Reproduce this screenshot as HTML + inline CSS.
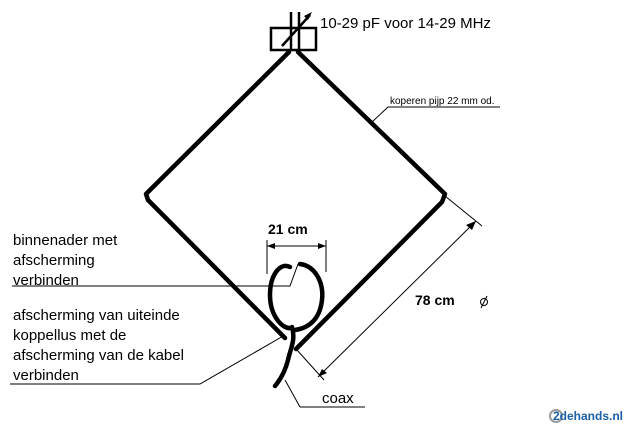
<!DOCTYPE html>
<html><head><style>html,body{margin:0;padding:0;background:#fff;}</style></head>
<body>
<svg width="634" height="426" viewBox="0 0 634 426" xmlns="http://www.w3.org/2000/svg" font-family="Liberation Sans, sans-serif">
<rect width="634" height="426" fill="#fff"/>
<g fill="none" stroke="#000" stroke-width="4.5" stroke-linejoin="round" stroke-linecap="round">
<polyline points="289,52 146,194 148,200 285,338"/>
<polyline points="298,52 445,194 442,202 296,349"/>
<path d="M290,267 C280,262 270,275 270,295 C270,315 282,330 292,328 M300,264 C315,266 324,282 322,300 C320,318 310,328 295,330"/>
<path d="M292,327 C296,340 290,350 288,360 C285,372 280,380 275,386"/>
</g>
<g fill="none" stroke="#000" stroke-width="2.5">
<rect x="271" y="28" width="45" height="22"/>
<line x1="291" y1="12" x2="291" y2="50"/><line x1="299" y1="12" x2="299" y2="50"/>
<line x1="282" y1="46" x2="310" y2="15"/>
</g>
<polygon points="312,12 304,16 308,20" fill="#000"/>
<g stroke="#000" stroke-width="1" fill="none">
<line x1="267" y1="240" x2="267" y2="274"/><line x1="326" y1="240" x2="326" y2="272"/>
<line x1="267" y1="246" x2="326" y2="246"/>
<line x1="445" y1="196" x2="482" y2="226"/><line x1="297" y1="350" x2="324" y2="380"/>
<line x1="318" y1="377" x2="476" y2="221"/>
<polyline points="12,286 290,286 298,264"/>
<polyline points="10,384 200,384 285,335"/>
<line x1="300" y1="407" x2="365" y2="407"/>
<line x1="300" y1="407" x2="285" y2="380"/>
<polyline points="500,107 388,107 372,122"/>
<circle cx="484" cy="302" r="3.5"/><line x1="481" y1="308" x2="487" y2="296"/>
</g>
<g fill="#000">
<polygon points="267,246 275,243 275,249"/><polygon points="326,246 318,243 318,249"/>
<polygon points="476,221 466,225 472,230"/><polygon points="318,377 322,369 327,373"/>
<polygon points="372,122 368,118 376,126"/>
</g>
<g font-size="15" fill="#000">
<text x="320" y="28">10-29 pF voor 14-29 MHz</text>
<text x="268" y="234" font-weight="bold" font-size="14">21 cm</text>
<text x="415" y="305" font-weight="bold" font-size="14">78 cm</text>
<text x="13" y="245">binnenader met</text>
<text x="13" y="265">afscherming</text>
<text x="13" y="285">verbinden</text>
<text x="13" y="320">afscherming van uiteinde</text>
<text x="13" y="340"> koppellus met de</text>
<text x="13" y="360">afscherming van de kabel</text>
<text x="13" y="380">verbinden</text>
<text x="322" y="403">coax</text>
</g>
<text x="390" y="104" font-size="10">koperen pijp 22  mm od.</text>
<circle cx="556" cy="416" r="6" fill="none" stroke="#999" stroke-width="2"/>
<text x="553" y="420" font-size="12" font-weight="bold" fill="#1a5fa8">2dehands.nl</text>
</svg>
</body></html>
